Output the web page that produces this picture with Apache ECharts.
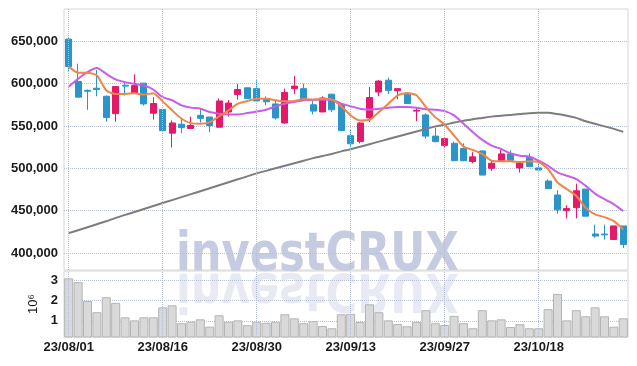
<!DOCTYPE html>
<html><head><meta charset="utf-8">
<script src="https://cdn.jsdelivr.net/npm/echarts@6/dist/echarts.min.js"></script>
<style>html,body{margin:0;padding:0;background:#fff}#c{width:637px;height:366px}</style>
</head><body><div id="c"></div>
<script>
// trading dates (yy/mm/dd)
const dates = ['23/08/01','23/08/02','23/08/03','23/08/04','23/08/07','23/08/08','23/08/09','23/08/10','23/08/11','23/08/14',
'23/08/16','23/08/17','23/08/18','23/08/21','23/08/22','23/08/23','23/08/24','23/08/25','23/08/28','23/08/29',
'23/08/30','23/08/31','23/09/01','23/09/04','23/09/05','23/09/06','23/09/07','23/09/08','23/09/11','23/09/12',
'23/09/13','23/09/14','23/09/15','23/09/18','23/09/19','23/09/20','23/09/21','23/09/22','23/09/25','23/09/26',
'23/09/27','23/10/04','23/10/05','23/10/06','23/10/10','23/10/11','23/10/12','23/10/13','23/10/16','23/10/17',
'23/10/18','23/10/19','23/10/20','23/10/23','23/10/24','23/10/25','23/10/26','23/10/27','23/10/30','23/10/31'];
const xLabelDates = ['23/08/01','23/08/16','23/08/30','23/09/13','23/09/27','23/10/18'];

// prices in thousands of won
const openK  = [652.5,602.5,592,594.5,585,564.5,598,589,600.5,565,569.5,541.5,552,547,562.5,560.5,548.5,566.5,587,595,594,582.5,576,553.5,594,594,575,566.5,587.5,575.5,538.5,531.5,559.5,590,604,591.5,587.5,567.5,563,538,527,529.5,523.5,508,520.5,500,509,517,500.5,513,500.5,485,468.5,450,453.5,475.5,422.5,422.5,416,432];
const closeK = [620,584,591,593,560,596.5,597,597.5,576,576.5,544.5,553.5,548,550.5,559,550.5,579.5,577,593,582.5,579.5,578.5,559.5,589.5,597,580.5,567.5,583,569,544.5,529,553.5,583.5,603,592,594,576.5,568.5,538,531.5,535,509,509,513.5,492,506,517,509.5,506,502,498,476,451,452.5,473.5,443.5,420,421.5,432,410];
const lowK   = [613.5,584,569,585,555,555,586,589,574,557.5,544,524.5,541.5,546.5,554,542.5,548,561,581,582,579,574.5,557.5,552.5,587.5,580,563.5,566.5,566.5,544,525.5,529.5,554.5,585,587.5,581.5,576.5,555.5,535,530.5,525,509,508.5,506,492,497,509,509,495,502,498,476,446.5,441,441,443.5,418,416,416,406];
const highK  = [655,623.5,593,616,586,596.5,603,611,600.5,584,569.5,556.5,559.5,561,571,560.5,582.5,580.5,599.5,595,604,585,579.5,594,609,600,579.5,585,587.5,576,545.5,554.5,596,604,607,594,590,571,565,548,535,531.5,529.5,519,521,509.5,521.5,521,506,517.5,506.5,487,474,456.5,482,475.5,433.5,433.5,432,432];

const ma5K  = [620,612.7,612.7,609.6,591.8,587.8,587.8,588.6,587,588.6,579,568.4,558.5,553.3,552.6,554.5,561.3,568.4,576.3,579.4,582,582,580.3,579,579.4,581.8,581,582,581,573.1,562.4,556.5,557.3,566.4,576.3,586.2,588.9,586.2,572.3,560.4,551.5,538.6,525.6,521.6,516.9,508.9,508.2,508.2,507.4,508.2,507.5,499.2,483.3,475.3,467.4,453.5,445.7,442.4,437.7,427.8];
const ma10K = [596.3,605.6,613.5,618.3,611.5,604.9,601.6,599.7,597.7,593,584,580.3,574.3,571.6,570.4,566.4,564.5,563.6,563.6,565.2,567,569.2,573.1,576.3,578.3,580.3,581,581,581,576.3,573.1,570.4,569.2,570.4,571.6,572.3,572.3,571.6,569.6,569.2,567.5,562.4,552.6,542.6,533.6,526.8,522.8,517.7,514.9,513.7,509,503,495.1,491.2,487.3,479.3,470.2,463.5,457.5,449.6];
const maLongK = [423.5,427,430.5,434,437.5,441.5,445,448.5,452,455.5,459,462.5,466,469.5,473,476.5,480,483.5,487,490.5,494,497,500,503,506,509,512,514.5,517,520,522.5,525.5,528.5,531.5,534.5,537.5,540.5,543.5,546.5,549.5,551.5,554,556,558,559.5,561,562,563,564,565,565.5,565.5,564,562,559.5,555.5,552.5,549.5,546.5,543];

// volume in millions of shares
const volumeM = [3.09,2.90,1.97,1.42,2.16,1.88,1.17,1.02,1.17,1.17,1.66,1.76,0.88,0.96,1.07,0.71,1.27,0.95,1.02,0.78,0.95,0.90,0.95,1.32,1.12,0.88,0.98,0.74,0.63,1.32,1.34,0.94,1.81,1.42,1.02,0.84,0.73,0.94,1.52,0.88,0.79,1.24,0.88,0.63,1.52,1.02,1.07,0.69,0.83,0.63,0.63,1.57,2.32,1.02,1.52,1.22,1.66,1.22,0.71,1.12];

const UP = '#e5196a', DOWN = '#2b95c9';
const candleData = dates.map((d, i) => [openK[i]*1000, closeK[i]*1000, lowK[i]*1000, highK[i]*1000]);
const toWon = a => a.map(v => v*1000);

const vLines = {
  silent: true, symbol: ['none','none'], animation: false,
  label: {show: false},
  lineStyle: {type: 'dotted', color: '#b3bad3', width: 1},
  data: xLabelDates.map(d => ({xAxis: d}))
};
const FONT = '"Liberation Sans", Arial, sans-serif';
const WM_FONT = 'bold 54px "DejaVu Sans", sans-serif';
const LBL = {fontSize: 13, color: '#1a1a1a', fontFamily: FONT, fontWeight: 'bold'};

const chart = echarts.init(document.getElementById('c'), null, {renderer: 'canvas'});
chart.setOption({
  animation: false,
  textStyle: {fontFamily: FONT},
  grid: [
    {left: 64, right: 9, top: 9, height: 261, show: true, borderColor: '#d6d6d6', borderWidth: 1},
    {left: 64, right: 9, top: 271, height: 66, show: true, borderColor: '#d6d6d6', borderWidth: 1}
  ],
  xAxis: [
    {type: 'category', gridIndex: 0, data: dates, boundaryGap: true,
     axisLine: {show: false}, axisTick: {show: false}, axisLabel: {show: false}, splitLine: {show: false}},
    {type: 'category', gridIndex: 1, data: dates, boundaryGap: true,
     axisLine: {show: false}, axisTick: {show: false}, splitLine: {show: false},
     axisLabel: Object.assign({interval: (i, v) => xLabelDates.includes(v), margin: 4}, LBL)}
  ],
  yAxis: [
    {type: 'value', gridIndex: 0, min: 380000, max: 688000, splitNumber: 6,
     axisLine: {show: false}, axisTick: {show: false},
     axisLabel: Object.assign({formatter: v => (v % 50000 === 0 ? v.toLocaleString('en-US') : ''), margin: 6}, LBL),
     splitLine: {showMinLine: false, showMaxLine: false, lineStyle: {type: 'dotted', color: '#b9c0d8'}}},
    {type: 'value', gridIndex: 1, min: 0.2, max: 3.45, splitNumber: 3,
     name: '10\u2076', nameLocation: 'middle', nameRotate: 90, nameGap: 22,
     nameTextStyle: {fontSize: 13, color: '#1a1a1a', fontFamily: FONT},
     axisLine: {show: false}, axisTick: {show: false},
     axisLabel: Object.assign({formatter: v => (Number.isInteger(v) ? String(v) : ''), margin: 6}, LBL),
     splitLine: {showMinLine: false, showMaxLine: false, lineStyle: {type: 'dotted', color: '#b9c0d8'}}}
  ],
  graphic: [
    {type: 'text', x: 176, y: 272, scaleX: 0.8, silent: true, z: 0,
     style: {text: 'investCRUX', x: 0, y: -16.5, font: WM_FONT, fill: '#c5cbe1', verticalAlign: 'middle', align: 'left'}},
    {type: 'text', x: 176, y: 272, scaleX: 0.8, scaleY: -1, silent: true, z: 0,
     style: {text: 'investCRUX', x: 0, y: -16.5, font: WM_FONT, fill: '#c5cbe1', opacity: 0.4, verticalAlign: 'middle', align: 'left'}}
  ],
  series: [
    {type: 'bar', xAxisIndex: 1, yAxisIndex: 1, data: volumeM, barCategoryGap: '4%', clip: true,
     itemStyle: {color: '#d9d9d9', borderColor: '#b4b4b4', borderWidth: 1}, markLine: vLines, z: 2},
    {type: 'candlestick', xAxisIndex: 0, yAxisIndex: 0, data: candleData, barWidth: '68%',
     itemStyle: {color: UP, color0: DOWN, borderColor: UP, borderColor0: DOWN, borderWidth: 1},
     markLine: vLines, z: 3},
    {type: 'line', xAxisIndex: 0, yAxisIndex: 0, data: toWon(maLongK), symbol: 'none', smooth: 0.3,
     lineStyle: {color: '#7d7d7d', width: 2}, z: 4},
    {type: 'line', xAxisIndex: 0, yAxisIndex: 0, data: toWon(ma10K), symbol: 'none', smooth: 0.2,
     lineStyle: {color: '#c65eea', width: 2}, z: 4},
    {type: 'line', xAxisIndex: 0, yAxisIndex: 0, data: toWon(ma5K), symbol: 'none', smooth: 0.2,
     lineStyle: {color: '#ef8548', width: 2}, z: 5}
  ]
});
</script>
</body></html>
